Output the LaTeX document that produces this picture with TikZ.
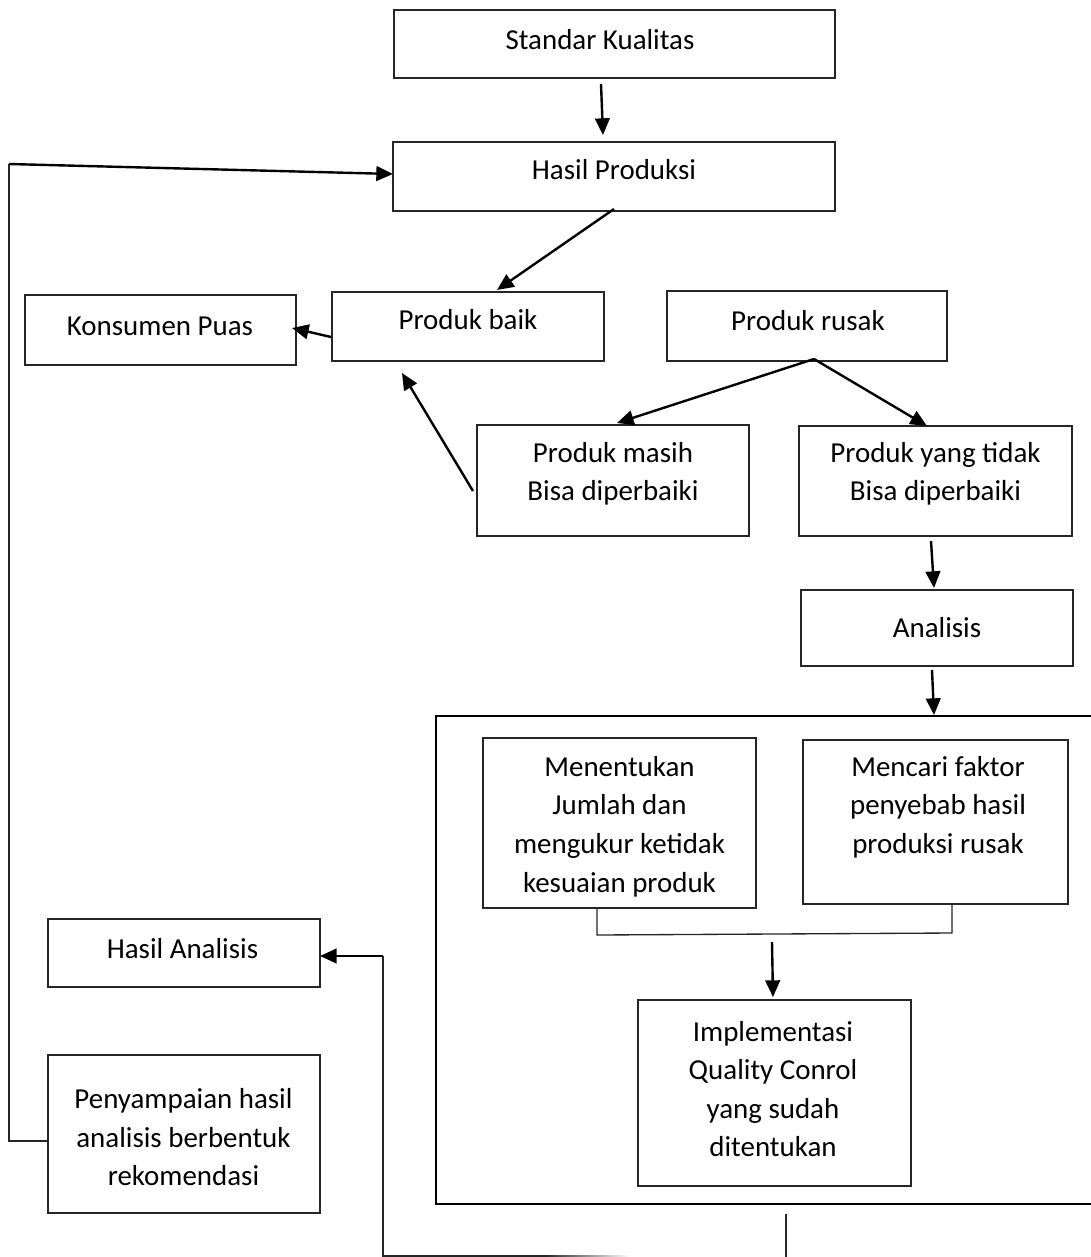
\documentclass[tikz,border=0pt]{standalone}
\usepackage{fontspec}
\setmainfont{Carlito}
\usetikzlibrary{arrows.meta,calc}
\begin{document}
\begin{tikzpicture}[x=0.75pt,y=-0.75pt,
  box/.style={draw=black!85, line width=1.1pt, inner sep=0pt, outer sep=0pt, rectangle},
  lbl/.style={align=center, inner sep=0pt, font=\fontsize{21.7}{28.9}\selectfont},
  arr/.style={line width=1.8pt, -{Triangle[length=12.5pt,width=11pt]}},
  thinline/.style={line width=1pt, draw=black!85},
  grp/.style={line width=1.5pt, draw=black}
]
\useasboundingbox (0,0) rectangle (1091,1257);

% boxes
\node[box, minimum width=441*0.75pt, minimum height=68*0.75pt] (std) at (614.5,44) {};
\node[lbl] (stdt) at (600,40) {Standar Kualitas};
\node[box, minimum width=442*0.75pt, minimum height=69*0.75pt] (hp) at (614,176.5) {};
\node[lbl] (hpt) at (614,170) {Hasil Produksi};
\node[box, minimum width=271*0.75pt, minimum height=70*0.75pt] (kp) at (160.5,330) {};
\node[lbl] (kpt) at (160,326) {Konsumen Puas};
\node[box, minimum width=272*0.75pt, minimum height=69*0.75pt] (pb) at (468,326.5) {};
\node[lbl] (pbt) at (468,320) {Produk baik};
\node[box, minimum width=280*0.75pt, minimum height=70*0.75pt] (pr) at (807,326) {};
\node[lbl] (prt) at (808,321) {Produk rusak};
\node[box, minimum width=272*0.75pt, minimum height=111*0.75pt] (pm) at (613,480.5) {};
\node[lbl] (pmt) at (613,474) {Produk masih\\Bisa diperbaiki};
\node[box, minimum width=273*0.75pt, minimum height=110*0.75pt] (pt) at (935.5,481) {};
\node[lbl] (ptt) at (935.5,474) {Produk yang tidak\\Bisa diperbaiki};
\node[box, minimum width=272*0.75pt, minimum height=76*0.75pt] (an) at (937,628) {};
\node[lbl] (ant) at (937,628) {Analisis};

% group frame
\coordinate (gTR) at (1100,716);
\coordinate (gTL) at (436,716);
\coordinate (gBL) at (436,1204);
\coordinate (gBR) at (1100,1204);
\draw[grp] (gTR) -- (gTL) -- (gBL) -- (gBR);
\coordinate (gIn) at (934,715);

\node[box, minimum width=273*0.75pt, minimum height=170*0.75pt] (mn) at (619.5,823) {};
\node[lbl] (mnt) at (619.5,826.5) {Menentukan\\Jumlah dan\\mengukur ketidak\\kesuaian produk};
\node[box, minimum width=265*0.75pt, minimum height=164*0.75pt] (mc) at (935.5,822) {};
\node[lbl] (mct) at (938,807) {Mencari faktor\\penyebab hasil\\produksi rusak};
\node[box, minimum width=273*0.75pt, minimum height=186*0.75pt] (im) at (774.5,1093) {};
\node[lbl] (imt) at (773,1089) {Implementasi\\Quality Conrol\\yang sudah\\ditentukan};
\node[box, minimum width=272*0.75pt, minimum height=68*0.75pt] (ha) at (184,953) {};
\node[lbl] (hat) at (182.5,949) {Hasil Analisis};
\node[box, minimum width=272*0.75pt, minimum height=158*0.75pt] (ps) at (184,1134) {};
\node[lbl] (pst) at (183.5,1137.5) {Penyampaian hasil\\analisis berbentuk\\rekomendasi};

% connectors
\draw[arr] ($(std.south)+(-13.5,6)$) -- ($(hp.north)+(-11,-7)$);
\draw[arr] ($(hp.south)+(0,-2)$) -- ($(pb.north)+(29,-2)$);
\draw[arr] ($(pb.west)+(-1,10.5)$) -- ($(kp.east)+(-4,-2)$);
\coordinate (prS) at ($(pr.south)+(7,-2)$);
\draw[arr] (prS) -- ($(pm.north)+(4,-2)$);
\draw[arr] (prS) -- ($(pt.north)+(-8.5,0)$);
\draw[arr] ($(pm.west)+(-4,10.5)$) -- ($(pb.south)+(-66,12)$);
\draw[arr] ($(pt.south)+(-4.5,5)$) -- ($(an.north)+(-3,-2)$);
\draw[arr] ($(an.south)+(-5,4)$) -- (gIn);

% feedback to Hasil Produksi
\coordinate (fbB) at (9,1141);
\coordinate (fbT) at (9,164);
\draw[thinline] ($(ps.west)+(0,7)$) -- (fbB) -- (fbT);
\draw[arr] (fbT) -- ($(hp.west)+(0,-2.5)$);

% bracket under the two analysis boxes
\coordinate (brL) at (597,935);
\coordinate (brR) at (952,933);
\draw[thinline] ($(mn.south)+(-22.5,0)$) -- (brL) -- (brR) -- ($(mc.south)+(16.5,0)$);
\coordinate (brM) at (772,942);
\draw[arr] (brM) -- ($(im.north)+(-1.5,-3)$);

% bottom return to Hasil Analisis
\coordinate (b1) at (786,1214);
\coordinate (b2) at (786,1262);
\draw[thinline] (b1) -- (b2);
\coordinate (c0) at (545,1256);
\coordinate (c1) at (383,1256);
\coordinate (c2) at (383,956);
\draw[thinline] (c0) -- (c1) -- (c2);
\shade[left color=black!85, right color=white] (545,1255.3) rectangle (630,1256.7);
\draw[arr] (c2) -- ($(ha.east)+(0,3)$);
\end{tikzpicture}
\end{document}
